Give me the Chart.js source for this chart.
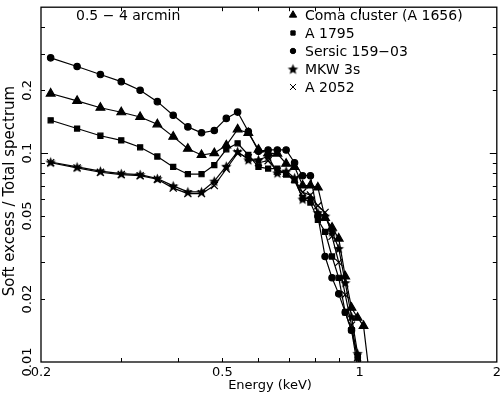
<!DOCTYPE html>
<html>
<head>
<meta charset="utf-8">
<script src="https://cdn.jsdelivr.net/npm/chart.js@4/dist/chart.umd.min.js"></script>
<style>
  html, body { margin: 0; padding: 0; background: #fff; }
  #wrap { width: 504px; height: 397px; }
</style>
</head>
<body>
<div id="wrap"><canvas id="ratioChart" width="504" height="397"></canvas></div>
<script>
// energy bins (keV)
const energy = [0.21, 0.24, 0.27, 0.30, 0.33, 0.36, 0.39, 0.42, 0.45, 0.48,
  0.51, 0.54, 0.57, 0.60, 0.63, 0.66, 0.69, 0.72, 0.75, 0.78,
  0.81, 0.84, 0.87, 0.90, 0.93, 0.96, 0.99, 1.02, 1.05];

// soft excess / total spectrum, 0.5 - 4 arcmin
const coma = [0.193, 0.178, 0.165, 0.157, 0.149, 0.1375, 0.120, 0.105, 0.098, 0.100,
  0.109, 0.130, 0.125, 0.104, 0.100, 0.0996, 0.089, 0.086, 0.070, 0.070,
  0.0685, 0.049, 0.044, 0.039, 0.0257, 0.0182, 0.0163, 0.0149, 0.0088];
const a1795 = [0.1437, 0.1312, 0.1212, 0.1152, 0.1067, 0.0964, 0.0859, 0.0793, 0.0793, 0.0877,
  0.1044, 0.1115, 0.098, 0.086, 0.0844, 0.0844, 0.079, 0.074, 0.061, 0.058,
  0.048, 0.042, 0.032, 0.0253, 0.0173, 0.0142, 0.0105, 0.0075];
const sersic = [0.286, 0.260, 0.238, 0.220, 0.200, 0.1765, 0.152, 0.1336, 0.1252, 0.1284,
  0.1467, 0.1573, 0.127, 0.102, 0.1036, 0.1036, 0.1036, 0.090, 0.078, 0.078,
  0.050, 0.032, 0.0253, 0.0212, 0.0173, 0.0142, 0.0095];
const mkw3s = [0.0907, 0.0859, 0.082, 0.0798, 0.079, 0.0756, 0.0697, 0.0653, 0.0653, 0.0735,
  0.0866, 0.1018, 0.093, 0.093, 0.0965, 0.0805, 0.082, 0.0762, 0.0603, 0.061,
  0.052, 0.050, 0.042, 0.035, 0.024, 0.0165, 0.011, 0.008];
const a2052 = [0.090, 0.085, 0.081, 0.079, 0.078, 0.075, 0.068, 0.064, 0.064, 0.070,
  0.084, 0.100, 0.095, 0.090, 0.092, 0.082, 0.080, 0.075, 0.065, 0.063,
  0.056, 0.052, 0.040, 0.030, 0.021, 0.015, 0.0105, 0.0075];

const xLabels = [0.2, 0.5, 1, 2];
const yLabels = [0.01, 0.02, 0.05, 0.1, 0.2];

const FONT = '"DejaVu Sans", sans-serif';

// filled five-point star marker
function makeStar(r) {
  const c = document.createElement('canvas');
  const s = Math.ceil(r * 2 + 2);
  c.width = s; c.height = s;
  const g = c.getContext('2d');
  g.fillStyle = '#000';
  g.beginPath();
  for (let i = 0; i < 10; i++) {
    const rad = i % 2 ? r * 0.45 : r;
    const a = -Math.PI / 2 + i * Math.PI / 5;
    const px = s / 2 + rad * Math.cos(a), py = s / 2 + 0.6 + rad * Math.sin(a);
    i ? g.lineTo(px, py) : g.moveTo(px, py);
  }
  g.closePath();
  g.fill();
  return c;
}
const starImg = makeStar(5.5);

function pts(vals) {
  return vals.map((v, i) => ({ x: energy[i], y: v }));
}

function series(label, vals, style, radius) {
  return {
    label: label,
    data: pts(vals),
    borderColor: '#000',
    borderWidth: 1.2,
    backgroundColor: '#000',
    pointStyle: style,
    pointRadius: radius,
    pointBackgroundColor: '#000',
    pointBorderColor: '#000',
    pointBorderWidth: 1.2,
    tension: 0
  };
}

const datasets = [
  series('Coma cluster (A 1656)', coma, 'triangle', 5),
  series('A 1795', a1795, 'rect', 3.6),
  series('Sersic 159\u221203', sersic, 'circle', 3.2),
  series('MKW 3s', mkw3s, starImg, 6),
  series('A 2052', a2052, 'crossRot', 5)
];

// frame, inward ticks, labels, legend, note
const pgFrame = {
  id: 'pgFrame',
  afterDatasetsDraw(chart) {
    const ctx = chart.ctx;
    const a = chart.chartArea;
    const xs = chart.scales.x, ys = chart.scales.y;
    ctx.save();
    ctx.strokeStyle = '#000';
    ctx.lineWidth = 1.3;
    ctx.strokeRect(a.left, a.top, a.right - a.left, a.bottom - a.top);

    ctx.lineWidth = 1;
    const xt = [0.3, 0.4, 0.5, 0.6, 0.7, 0.8, 0.9, 1];
    xt.forEach(v => {
      const p = Math.round(xs.getPixelForValue(v)) + 0.5;
      const len = v === 1 ? 7 : 4;
      ctx.beginPath();
      ctx.moveTo(p, a.bottom); ctx.lineTo(p, a.bottom - len);
      ctx.moveTo(p, a.top); ctx.lineTo(p, a.top + len);
      ctx.stroke();
    });
    const yt = [0.02, 0.03, 0.04, 0.05, 0.06, 0.07, 0.08, 0.09, 0.1, 0.2, 0.3, 0.4];
    yt.forEach(v => {
      const p = Math.round(ys.getPixelForValue(v)) + 0.5;
      const len = v === 0.1 ? 7 : 4;
      ctx.beginPath();
      ctx.moveTo(a.left, p); ctx.lineTo(a.left + len, p);
      ctx.moveTo(a.right, p); ctx.lineTo(a.right - len, p);
      ctx.stroke();
    });

    ctx.fillStyle = '#000';
    ctx.font = '13px ' + FONT;
    ctx.textAlign = 'center';
    ctx.textBaseline = 'middle';
    xLabels.forEach(v => {
      ctx.fillText(String(v), xs.getPixelForValue(v), a.bottom + 11);
    });
    yLabels.forEach(v => {
      ctx.save();
      ctx.translate(a.left - 13, ys.getPixelForValue(v));
      ctx.rotate(-Math.PI / 2);
      ctx.fillText(String(v), 0, 0);
      ctx.restore();
    });

    ctx.fillText('Energy (keV)', 270, 386);
    ctx.save();
    ctx.font = '15px ' + FONT;
    ctx.translate(10, 191);
    ctx.rotate(-Math.PI / 2);
    ctx.fillText('Soft excess / Total spectrum', 0, 0);
    ctx.restore();

    ctx.font = '14px ' + FONT;
    ctx.textAlign = 'left';
    ctx.fillText('0.5 \u2212 4 arcmin', 76, 16);

    chart.data.datasets.forEach((ds, i) => {
      const y = 15 + i * 18;
      Chart.helpers.drawPoint(ctx, {
        pointStyle: ds.pointStyle,
        radius: ds.pointRadius * 0.85,
        rotation: 0,
        borderWidth: 1
      }, 293, y);
      ctx.fillText(ds.label, 305, y + 1);
    });
    ctx.restore();
  }
};

new Chart(document.getElementById('ratioChart'), {
  type: 'line',
  data: { datasets: datasets },
  options: {
    responsive: false,
    animation: false,
    devicePixelRatio: 1,
    layout: { padding: { left: 41, right: 5, top: 1, bottom: 35 } },
    plugins: {
      legend: { display: false },
      tooltip: { enabled: false }
    },
    scales: {
      x: { type: 'logarithmic', min: 0.2, max: 2, display: false },
      y: { type: 'logarithmic', min: 0.01, max: 0.5, display: false }
    }
  },
  plugins: [pgFrame]
});
</script>
</body>
</html>
